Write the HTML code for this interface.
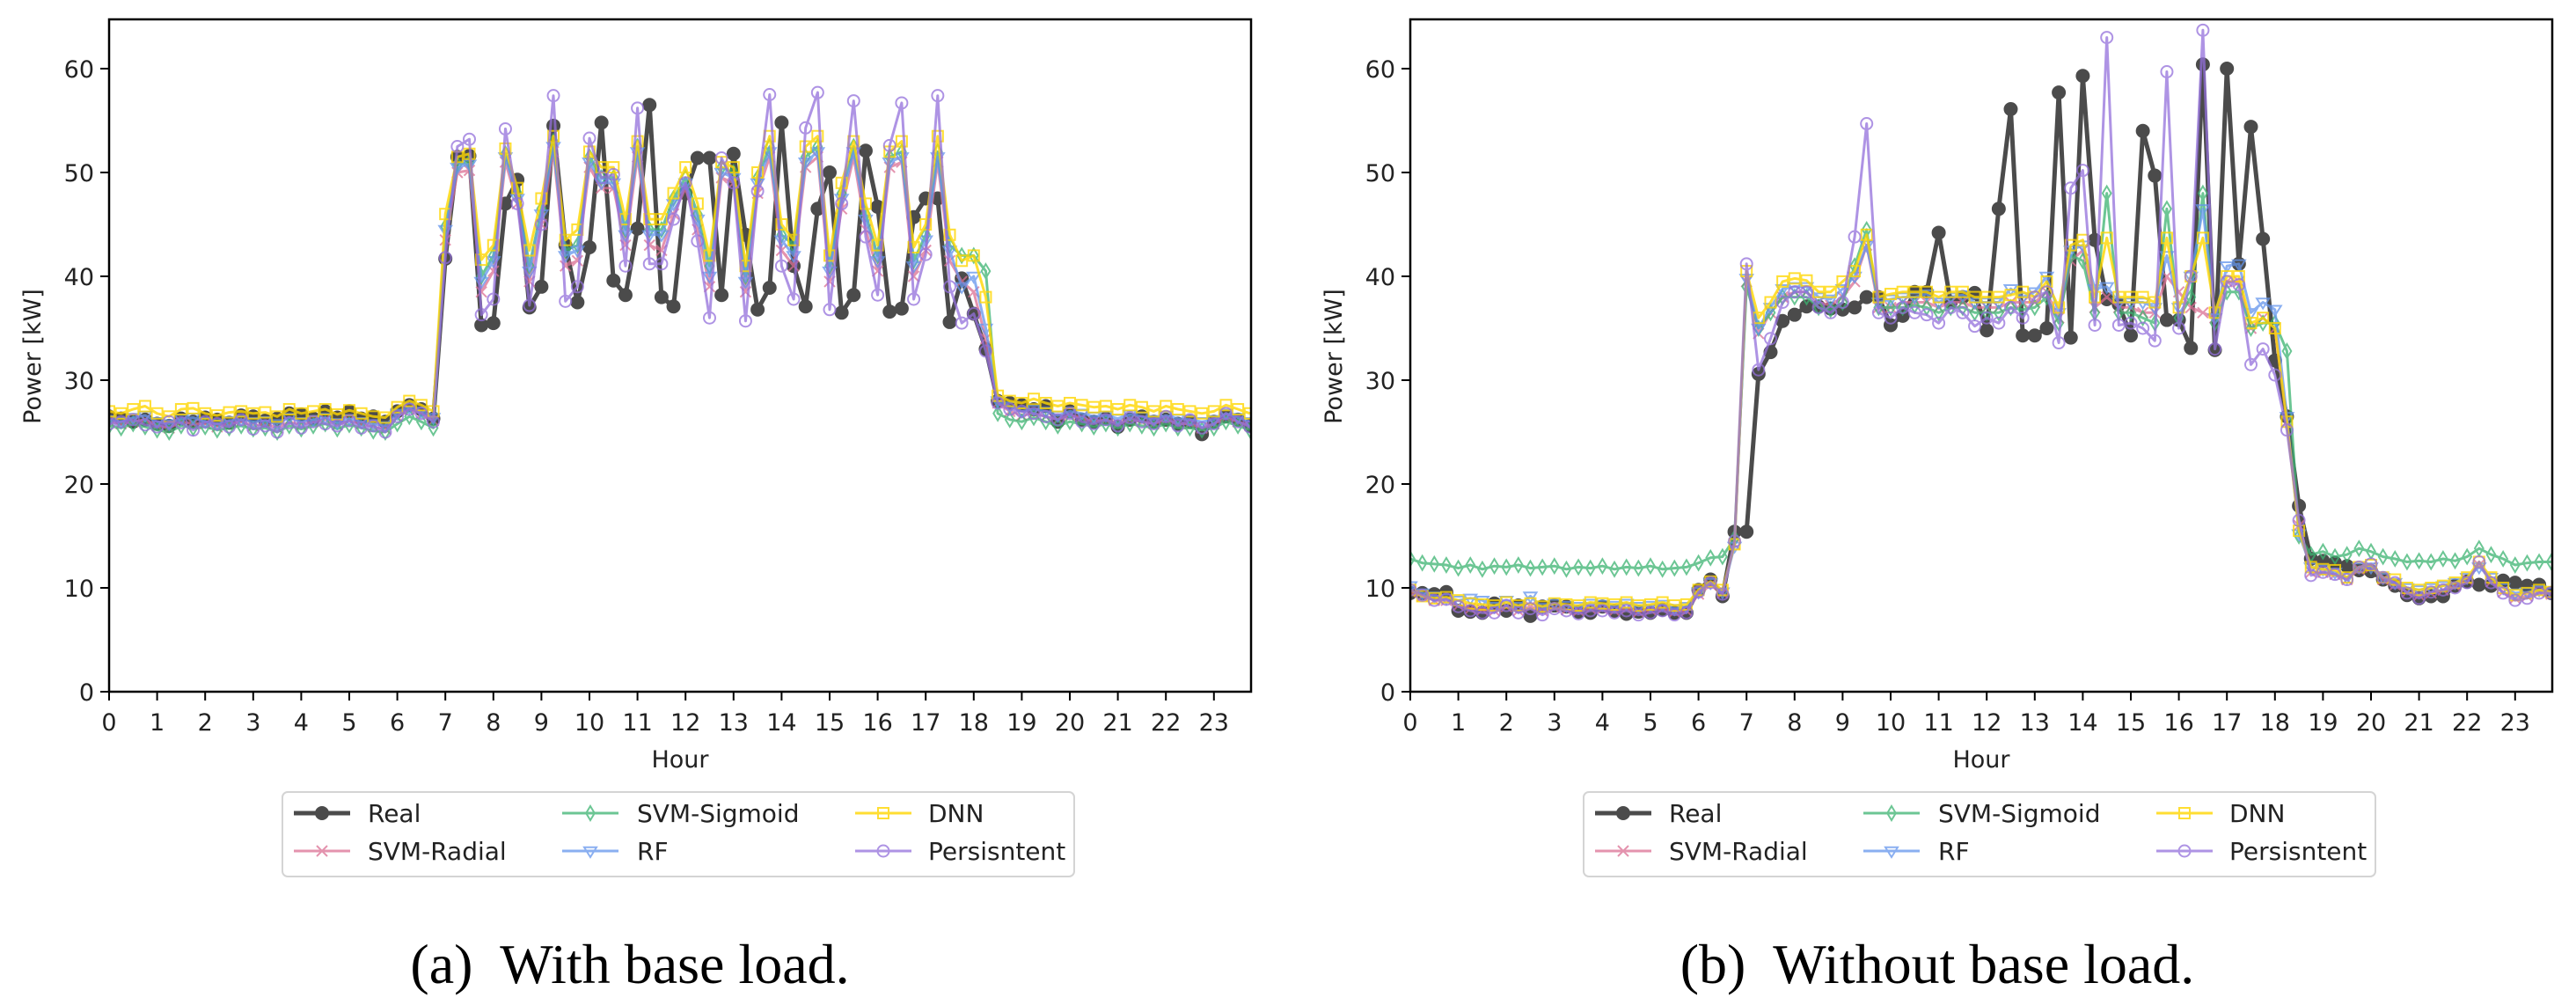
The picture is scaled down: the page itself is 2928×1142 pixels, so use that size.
<!DOCTYPE html>
<html><head><meta charset="utf-8"><style>
html,body{margin:0;padding:0;background:#fff;width:2928px;height:1142px;overflow:hidden}
svg{display:block}
text{font-family:"DejaVu Sans","Liberation Sans",sans-serif;fill:#222}
.cap{font-family:"Liberation Serif",serif;fill:#000}
</style></head><body>
<svg id="fig" width="2928" height="1142" viewBox="0 0 2928 1142" xmlns="http://www.w3.org/2000/svg"></svg>
<script>
const hours = Array.from({length:96},(_,i)=>i/4);
const xTicks = [0,1,2,3,4,5,6,7,8,9,10,11,12,13,14,15,16,17,18,19,20,21,22,23];
const yTicks = [0,10,20,30,40,50,60];
const seriesNames = ["Real","SVM-Radial","SVM-Sigmoid","RF","DNN","Persisntent"];

const leftReal = [26.5,26.3,26.0,26.2,25.8,25.6,26.3,26.0,26.4,26.2,25.9,26.6,26.5,26.1,26.3,26.8,26.7,26.3,27.0,26.4,27.0,26.3,26.5,26.0,27.0,27.6,27.2,26.3,
41.7,51.5,51.6,35.3,35.5,47.0,49.3,37.0,39.0,54.5,43.0,37.5,42.8,54.8,39.6,38.2,44.6,56.5,38.0,37.1,48.0,51.4,51.4,38.2,51.8,44.0,36.8,38.9,54.8,41.0,37.1,46.5,50.0,36.5,38.2,52.1,46.7,36.6,36.9,45.7,47.5,47.5,35.6,39.8,36.4,33.0,
28.0,27.8,27.6,27.2,27.5,26.0,27.0,26.2,26.0,26.3,25.5,26.2,26.5,26.0,26.2,25.8,26.0,24.8,26.0,26.5,26.2,25.6];
const leftSvmRadial = [26.0,25.8,26.0,26.2,25.6,25.4,26.0,25.8,25.8,25.5,25.8,26.0,25.6,25.8,25.4,26.0,25.7,26.0,26.2,25.7,26.1,25.8,25.5,25.3,26.5,27.2,26.8,26.1,
43.5,50.0,50.2,38.5,40.5,51.0,47.0,39.5,45.0,52.0,41.0,41.5,50.5,48.5,48.5,43.0,51.5,43.0,42.5,46.0,48.5,44.5,39.0,49.5,49.0,38.5,48.0,51.5,42.5,41.0,50.5,51.5,39.5,46.5,51.5,44.5,40.5,50.5,51.0,40.0,42.5,51.0,41.5,39.5,38.5,34.0,
27.8,27.0,26.6,26.8,26.5,26.2,26.6,26.4,26.0,26.2,25.8,26.2,26.0,25.8,26.2,25.8,25.8,25.4,25.8,26.4,26.0,25.6];
const leftSvmSigmoid = [25.6,25.4,25.8,25.5,25.2,25.0,25.6,25.4,25.5,25.2,25.4,25.6,25.3,25.4,25.0,25.6,25.3,25.6,25.8,25.3,25.7,25.4,25.1,25.0,25.8,26.5,26.0,25.4,
44.8,50.8,51.0,40.0,42.0,51.8,48.0,41.0,46.5,53.0,42.5,43.0,51.5,49.5,49.5,44.5,52.5,44.5,44.5,47.5,49.5,46.0,41.0,50.5,50.0,40.0,49.5,52.5,44.0,43.0,51.5,52.5,41.0,48.0,52.5,46.0,42.0,51.5,52.0,41.5,44.0,52.0,43.0,42.0,42.0,40.5,
26.8,26.2,26.0,26.4,26.0,25.6,26.0,25.8,25.5,25.8,25.4,25.8,25.6,25.4,25.8,25.4,25.4,25.2,25.4,26.0,25.6,25.2];
const leftRF = [26.2,26.0,26.4,26.6,26.0,25.8,26.3,26.4,26.0,25.8,26.1,26.2,26.0,26.1,25.8,26.4,26.0,26.2,26.4,25.9,26.3,26.0,25.8,25.6,26.8,27.4,27.0,26.4,
44.5,50.5,50.8,39.5,41.5,51.5,47.5,40.5,46.0,52.5,42.0,42.5,51.0,49.0,49.0,44.0,52.0,44.0,44.0,47.0,49.0,45.5,40.0,50.0,49.5,39.5,49.0,52.0,43.5,42.0,51.0,52.0,40.5,47.5,52.0,45.5,41.5,51.0,51.5,41.0,43.5,51.5,42.5,39.0,40.0,35.0,
28.0,27.5,27.0,27.2,27.0,26.6,27.0,26.8,26.5,26.6,26.3,26.7,26.5,26.2,26.6,26.3,26.2,26.0,26.2,26.8,26.4,26.0];
const leftDNN = [27.0,26.8,27.2,27.5,26.8,26.5,27.2,27.3,26.8,26.6,26.9,27.0,26.8,26.9,26.5,27.2,26.8,27.0,27.2,26.7,27.1,26.8,26.5,26.4,27.4,28.0,27.6,27.0,
46.0,51.5,51.8,41.6,43.0,52.3,48.5,42.5,47.5,53.5,43.5,44.5,52.0,50.5,50.5,45.5,53.0,45.5,45.5,48.0,50.5,47.0,42.0,51.0,50.5,41.0,50.0,53.5,45.0,43.5,52.5,53.5,42.0,49.0,53.0,47.0,43.0,52.0,53.0,42.8,45.0,53.5,44.0,41.5,42.0,38.0,
28.5,28.0,27.8,28.2,27.8,27.5,27.8,27.6,27.4,27.5,27.2,27.6,27.4,27.0,27.5,27.2,27.0,26.8,27.0,27.6,27.2,26.8];
const leftPersistent = [25.8,26.0,26.2,25.7,25.5,26.0,25.9,25.2,26.0,25.8,25.5,26.2,25.3,25.6,25.0,25.9,25.4,26.0,25.8,25.6,26.1,25.4,25.6,25.0,26.5,27.2,26.8,26.0,
41.8,52.5,53.2,36.3,37.8,54.2,47.0,37.2,45.0,57.4,37.6,39.0,53.3,49.5,49.8,41.0,56.2,41.2,41.2,45.5,49.0,43.4,36.0,51.4,49.0,35.7,48.2,57.5,41.0,37.8,54.3,57.7,36.8,47.0,56.9,43.8,38.2,52.6,56.7,37.8,42.1,57.4,39.0,35.5,36.4,32.8,
27.8,27.2,27.0,26.8,26.5,26.2,26.8,26.0,25.8,26.2,25.6,26.4,26.0,25.8,26.5,25.6,26.2,25.4,25.8,26.8,26.0,25.5];

const rightReal = [9.5,9.5,9.4,9.6,7.8,7.7,7.6,8.5,7.8,8.3,7.3,8.2,8.3,8.2,7.7,7.6,8.2,7.8,7.5,7.7,7.6,7.9,7.6,7.6,9.8,10.8,9.2,15.4,
15.4,30.6,32.7,35.7,36.3,37.1,37.1,36.9,36.8,37.0,38.0,38.0,35.3,36.2,38.5,38.5,44.2,37.5,38.0,38.4,34.8,46.5,56.1,34.3,34.3,35.0,57.7,34.1,59.3,43.5,37.8,37.3,34.3,54.0,49.7,35.8,35.8,33.1,60.4,32.9,60.0,41.2,54.4,43.6,31.9,26.5,
17.9,12.8,12.6,12.4,12.1,11.7,11.6,10.8,10.2,9.3,9.0,9.2,9.2,10.2,10.6,10.3,10.2,10.7,10.5,10.2,10.3,9.5];
const rightSvmRadial = [9.6,9.2,8.8,8.8,8.3,8.0,7.9,7.8,8.2,7.8,8.2,7.8,8.1,7.9,7.8,8.0,8.0,7.8,8.0,7.7,7.9,8.0,7.7,7.8,9.4,10.3,9.5,14.2,
39.5,34.5,36.5,38.0,38.5,38.5,37.5,37.2,38.0,39.5,43.0,37.0,37.0,37.5,37.5,37.5,37.0,37.5,37.5,37.0,37.0,37.0,37.5,37.5,37.5,38.5,36.0,41.5,42.5,37.0,38.0,37.0,37.0,36.5,36.5,40.0,38.5,37.0,36.5,36.0,39.5,39.5,35.0,36.0,35.0,26.0,
16.0,11.5,11.5,11.3,10.8,11.8,12.0,10.8,10.3,9.6,9.3,9.5,9.8,10.2,10.8,12.2,10.6,9.6,9.0,9.2,9.6,9.4];
const rightSvmSigmoid = [12.8,12.4,12.3,12.2,11.9,12.2,11.8,12.1,12.0,12.2,11.9,12.0,12.1,11.8,12.0,11.9,12.1,11.8,12.0,11.9,12.1,11.8,11.9,12.0,12.4,12.9,13.0,14.8,
39.0,35.0,36.5,38.0,38.0,38.0,37.0,36.8,37.5,41.0,44.5,37.0,37.0,37.0,37.2,37.0,36.5,37.0,37.0,36.5,36.5,36.5,37.0,36.8,37.0,38.0,35.5,42.0,41.5,36.5,48.0,36.5,36.5,36.0,35.5,46.5,36.0,38.0,48.0,35.5,38.5,38.5,35.0,35.5,35.5,32.8,
15.0,13.2,13.5,13.0,13.2,13.8,13.5,13.0,12.8,12.5,12.6,12.5,12.8,12.6,13.0,13.8,13.2,12.8,12.2,12.4,12.5,12.5];
const rightRF = [10.2,9.5,9.2,9.0,8.8,9.0,8.8,8.2,8.8,8.2,9.2,8.1,8.5,8.3,8.2,8.5,8.4,8.3,8.5,8.2,8.3,8.4,8.0,8.2,9.6,10.5,9.6,14.0,
39.8,35.0,37.0,38.8,39.0,39.0,38.0,37.8,38.8,40.0,43.0,37.5,37.8,38.0,38.0,38.3,37.5,38.0,38.2,37.5,37.5,37.5,38.8,38.0,38.5,40.0,36.5,42.5,43.0,38.8,39.0,37.5,37.5,37.5,37.0,42.0,37.0,40.0,46.5,36.0,41.0,41.2,36.5,37.5,36.8,26.5,
15.2,12.0,11.8,11.5,11.0,12.0,12.0,11.0,10.5,10.0,9.8,10.0,10.2,10.5,11.0,12.0,11.0,10.0,9.5,9.6,9.8,9.6];
const rightDNN = [9.8,9.2,9.0,9.1,8.8,8.5,8.4,8.3,8.6,8.3,8.5,8.2,8.5,8.4,8.3,8.6,8.5,8.4,8.6,8.3,8.4,8.6,8.3,8.4,9.8,10.6,9.8,14.2,
40.5,36.0,37.5,39.5,39.8,39.6,38.5,38.5,39.5,40.5,44.0,38.0,38.3,38.5,38.5,38.5,38.0,38.5,38.5,38.0,38.0,38.0,38.2,38.5,38.0,39.5,37.0,43.0,43.5,38.0,43.7,38.0,38.0,38.0,37.5,43.7,37.0,40.0,43.7,36.5,40.0,40.0,35.5,36.0,35.0,26.0,
15.5,12.0,11.8,11.7,11.0,12.0,12.2,11.0,10.8,10.0,9.8,10.0,10.2,10.5,11.0,12.5,11.0,10.0,9.3,9.5,9.8,9.6];
const rightPersistent = [9.8,9.3,8.8,8.9,8.2,7.8,7.6,7.6,8.3,7.6,8.0,7.4,8.0,7.8,7.5,7.8,7.8,7.6,7.8,7.4,7.6,7.8,7.4,7.6,9.6,10.5,9.4,14.5,
41.2,31.0,34.0,37.5,38.5,38.5,37.0,36.5,37.5,43.8,54.7,36.5,36.0,37.0,36.5,36.3,35.5,37.0,36.5,35.2,36.0,35.5,37.0,36.0,38.0,38.5,33.6,48.5,50.2,35.3,63.0,35.3,35.5,35.0,33.8,59.7,35.0,40.0,63.7,33.0,39.5,39.2,31.5,33.0,30.5,25.2,
16.5,11.2,11.5,11.3,10.8,12.0,12.3,11.0,10.5,9.5,9.0,9.6,9.8,10.0,10.5,12.5,10.5,9.5,8.8,9.0,9.5,9.5];

const NS="http://www.w3.org/2000/svg";
const svg=document.getElementById('fig');
function mk(tag,attrs,parent){const e=document.createElementNS(NS,tag);for(const k in attrs)e.setAttribute(k,attrs[k]);(parent||svg).appendChild(e);return e;}

const styles=[
 {color:"#000000",op:0.7,lw:5,m:"circle",r:7,fill:true},
 {color:"#db7093",op:0.75,lw:3,m:"x",r:6},
 {color:"#3cb371",op:0.75,lw:3,m:"thin_diamond",r:8},
 {color:"#6495ed",op:0.75,lw:3,m:"tri_down",r:7},
 {color:"#ffd700",op:0.8,lw:3,m:"square",r:6},
 {color:"#9370db",op:0.75,lw:3,m:"circle",r:6.5}
];
function marker(g,st,x,y){
 let e;
 if(st.m==="circle"){e=mk('circle',{cx:x,cy:y,r:st.r,fill:st.fill?st.color:"none",stroke:st.color,'stroke-width':2},g);}
 else if(st.m==="x"){const r=st.r;e=mk('path',{d:`M${x-r} ${y-r}L${x+r} ${y+r}M${x-r} ${y+r}L${x+r} ${y-r}`,stroke:st.color,'stroke-width':2,fill:"none"},g);}
 else if(st.m==="thin_diamond"){const r=st.r;e=mk('path',{d:`M${x} ${y-r}L${x+r*0.6} ${y}L${x} ${y+r}L${x-r*0.6} ${y}Z`,stroke:st.color,'stroke-width':2,fill:"none"},g);}
 else if(st.m==="tri_down"){const r=st.r;e=mk('path',{d:`M${x-r} ${y-r*0.6}L${x+r} ${y-r*0.6}L${x} ${y+r}Z`,stroke:st.color,'stroke-width':2,fill:"none"},g);}
 else {const r=st.r;e=mk('rect',{x:x-r,y:y-r,width:2*r,height:2*r,stroke:st.color,'stroke-width':2,fill:"none"},g);}
 
 
}

function drawPanel(id,x0,allSeries){
 const x1=x0+1298, yB=786, yT=22;
 const xs=h=>x0+h*54.6;
 const ys=v=>yB-v*11.8;
 const g=mk('g',{});
 
 
 const clip=mk('clipPath',{id:id+'-clip'},g);
 mk('rect',{x:x0,y:yT,width:x1-x0,height:yB-yT},clip);
 const plot=mk('g',{'clip-path':`url(#${id}-clip)`},g);
 
 
 allSeries.forEach((vals,si)=>{
  const st=styles[si];
  const sg=mk('g',{opacity:st.op},plot);
  
  
  const pts=vals.map((v,i)=>xs(hours[i]).toFixed(1)+','+ys(v).toFixed(1)).join(' ');
  const pl=mk('polyline',{points:pts,fill:'none',stroke:st.color,'stroke-width':st.lw,'stroke-linejoin':'round'},sg);
  
  
  vals.forEach((v,i)=>marker(sg,st,xs(hours[i]),ys(v)));
 });
 const fr=mk('rect',{x:x0,y:yT,width:x1-x0,height:yB-yT,fill:'none',stroke:'#000','stroke-width':2.5},g);
 
 
 xTicks.forEach(t=>{
  const x=xs(t);
  const tk=mk('line',{x1:x,x2:x,y1:yB,y2:yB+10,stroke:'#000','stroke-width':2},g);
  
  
  const tx=mk('text',{x:x,y:830,'font-size':27,'text-anchor':'middle'},g);
  tx.textContent=t;
  
  
 });
 yTicks.forEach(t=>{
  const y=ys(t);
  const tk=mk('line',{x1:x0-10,x2:x0,y1:y,y2:y,stroke:'#000','stroke-width':2},g);
  
  
  const tx=mk('text',{x:x0-17,y:y+10,'font-size':27,'text-anchor':'end'},g);
  tx.textContent=t;
  
  
 });
 const xl=mk('text',{x:(x0+x1)/2,y:872,'font-size':27,'text-anchor':'middle'},g);
 xl.textContent='Hour';
 
 
 const yl=mk('text',{x:0,y:0,'font-size':27,'text-anchor':'middle',transform:`translate(${x0-78},405) rotate(-90)`},g);
 yl.textContent='Power [kW]';
 
 
 // legend
 const lx=x0+197;
 const lg=mk('g',{},g);
 
 
 mk('rect',{x:lx,y:900,width:900,height:96,rx:6,fill:'#fff',stroke:'#d4d4d4','stroke-width':2},lg);
 const cols=[[lx+13,lx+97],[lx+318,lx+403],[lx+651,lx+734]];
 const rows=[924,967];
 const order=[[0,0,0],[1,0,1],[2,1,0],[3,1,1],[4,2,0],[5,2,1]];
 order.forEach(([si,c,r])=>{
  const st=styles[si];
  const eg=mk('g',{},lg);
  
  
  const y=rows[r], xa=cols[c][0];
  const sg=mk('g',{opacity:st.op},eg);
  mk('line',{x1:xa,x2:xa+64,y1:y,y2:y,stroke:st.color,'stroke-width':st.lw},sg);
  marker(sg,st,xa+32,y);
  const t=mk('text',{x:cols[c][1],y:y+10,'font-size':28},eg);
  t.textContent=seriesNames[si];
 });
}
drawPanel('left',124,[leftReal,leftSvmRadial,leftSvmSigmoid,leftRF,leftDNN,leftPersistent]);
drawPanel('right',1603,[rightReal,rightSvmRadial,rightSvmSigmoid,rightRF,rightDNN,rightPersistent]);
</script>
<svg style="position:absolute;left:0;top:0" width="2928" height="1142">
<text class="cap" x="716" y="1117" font-size="64" text-anchor="middle">(a)&#160; With base load.</text>
<text class="cap" x="2202" y="1117" font-size="64" text-anchor="middle">(b)&#160; Without base load.</text>
</svg>
</body></html>
